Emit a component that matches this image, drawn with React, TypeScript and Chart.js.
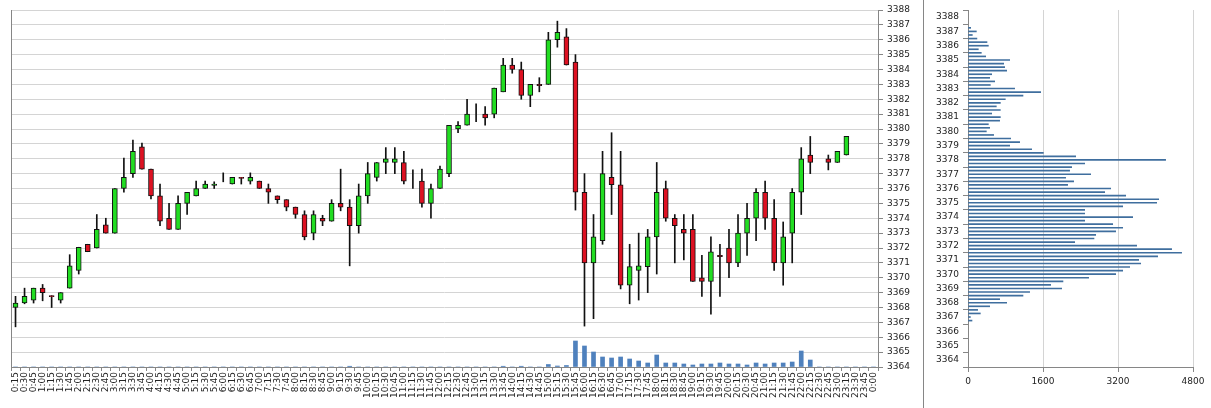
import React, { useEffect, useRef } from "react";
import { Chart, registerables } from "chart.js";

Chart.register(...registerables);

const timeLabels = [
  "0:15","0:30","0:45","1:00","1:15","1:30","1:45","2:00","2:15","2:30","2:45","3:00",
  "3:15","3:30","3:45","4:00","4:15","4:30","4:45","5:00","5:15","5:30","5:45","6:00",
  "6:15","6:30","6:45","7:00","7:15","7:30","7:45","8:00","8:15","8:30","8:45","9:00",
  "9:15","9:30","9:45","10:00","10:15","10:30","10:45","11:00","11:15","11:30","11:45","12:00",
  "12:15","12:30","12:45","13:00","13:15","13:30","13:45","14:00","14:15","14:30","14:45","15:00",
  "15:15","15:30","15:45","16:00","16:15","16:30","16:45","17:00","17:15","17:30","17:45","18:00",
  "18:15","18:30","18:45","19:00","19:15","19:30","19:45","20:00","20:15","20:30","20:45","21:00",
  "21:15","21:30","21:45","22:00","22:15","22:30","22:45","23:00","23:15","23:30","23:45","0:00",
];

const opens: (number | null)[] = [
  3368.0, 3368.3, 3368.5, 3369.3, 3368.8, 3368.5, 3369.3, 3370.5, 3372.25, 3372.0, 3373.55, 3373.0,
  3376.0, 3377.0, 3378.8, 3377.3, 3375.5, 3374.0, 3373.25, 3375.0, 3375.5, 3376.0, 3376.2, 3376.75,
  3376.3, 3376.75, 3376.5, 3376.5, 3376.0, 3375.5, 3375.25, 3374.75, 3374.25, 3373.0, 3374.0, 3373.8,
  3375.0, 3374.75, 3373.5, 3375.5, 3376.75, 3377.75, 3377.75, 3377.75, 3376.7, 3376.5, 3375.0, 3376.0,
  3377.0, 3380.0, 3380.25, 3381.0, 3381.0, 3381.0, 3382.5, 3384.3, 3384.0, 3382.25, 3383.0, 3383.0,
  3386.0, 3386.2, 3384.5, 3375.75, 3371.0, 3372.5, 3376.75, 3376.25, 3369.5, 3370.5, 3370.75, 3372.75,
  3376.0, 3374.0, 3373.25, 3373.25, 3370.0, 3369.75, 3371.5, 3372.0, 3371.0, 3373.0, 3374.0, 3375.75,
  3374.0, 3371.0, 3373.0, 3375.75, 3378.25, null, 3378.0, 3377.75, 3378.25, null, null, null,
];
const highs: (number | null)[] = [
  3368.75, 3369.3, 3369.3, 3369.55, 3368.8, 3369.0, 3371.55, 3372.05, 3372.25, 3374.25, 3374.0, 3376.0,
  3378.05, 3379.25, 3379.05, 3377.3, 3376.3, 3375.0, 3375.5, 3375.75, 3376.5, 3376.5, 3376.45, 3377.05,
  3376.75, 3376.75, 3377.05, 3376.5, 3376.3, 3375.5, 3375.25, 3374.75, 3374.5, 3374.5, 3374.2, 3375.25,
  3377.3, 3375.25, 3376.3, 3377.75, 3377.75, 3378.75, 3378.75, 3378.5, 3377.25, 3377.3, 3376.3, 3377.5,
  3380.25, 3380.5, 3382.0, 3381.7, 3381.5, 3382.75, 3384.75, 3384.75, 3384.5, 3383.0, 3383.45, 3386.5,
  3387.25, 3386.75, 3385.0, 3377.0, 3374.25, 3378.5, 3379.75, 3378.5, 3372.25, 3373.0, 3373.25, 3377.75,
  3376.5, 3374.25, 3374.25, 3374.25, 3371.5, 3372.75, 3372.25, 3373.25, 3374.25, 3375.0, 3376.0, 3376.5,
  3375.25, 3373.75, 3376.0, 3378.75, 3379.5, null, 3378.25, 3378.5, 3379.5, null, null, null,
];
const lows: (number | null)[] = [
  3366.7, 3368.25, 3368.3, 3368.45, 3368.0, 3368.3, 3369.3, 3370.25, 3371.75, 3372.0, 3373.0, 3373.0,
  3375.75, 3376.75, 3377.3, 3375.3, 3373.5, 3373.25, 3373.25, 3374.25, 3375.5, 3376.0, 3376.0, 3376.45,
  3376.3, 3376.3, 3376.3, 3376.0, 3375.0, 3375.0, 3374.5, 3374.0, 3372.55, 3372.55, 3373.5, 3373.8,
  3374.5, 3370.8, 3373.0, 3375.0, 3376.5, 3377.0, 3377.0, 3376.3, 3376.0, 3374.75, 3374.0, 3376.0,
  3376.8, 3379.75, 3380.25, 3380.5, 3380.25, 3380.75, 3382.5, 3383.75, 3382.0, 3381.5, 3382.5, 3383.0,
  3385.5, 3384.3, 3374.55, 3366.75, 3367.25, 3372.25, 3374.25, 3369.25, 3368.25, 3368.5, 3369.0, 3370.25,
  3373.8, 3371.0, 3371.2, 3369.75, 3368.75, 3367.55, 3368.75, 3370.0, 3370.75, 3371.5, 3372.5, 3373.25,
  3370.5, 3369.5, 3371.0, 3374.25, 3377.0, null, 3377.25, 3377.75, 3378.25, null, null, null,
];
const closes: (number | null)[] = [
  3368.3, 3368.75, 3369.3, 3369.0, 3368.72, 3369.0, 3370.8, 3372.05, 3371.75, 3373.25, 3373.0, 3376.0,
  3376.75, 3378.5, 3377.3, 3375.5, 3373.8, 3373.25, 3375.0, 3375.75, 3376.0, 3376.3, 3376.3, 3376.75,
  3376.75, 3376.67, 3376.75, 3376.0, 3375.75, 3375.25, 3374.75, 3374.25, 3372.75, 3374.25, 3373.8, 3375.0,
  3374.75, 3373.5, 3375.5, 3377.0, 3377.75, 3378.0, 3378.0, 3376.5, 3376.7, 3375.0, 3376.0, 3377.3,
  3380.25, 3380.25, 3381.0, 3381.0, 3380.75, 3382.75, 3384.3, 3384.0, 3382.25, 3383.0, 3382.92, 3386.0,
  3386.5, 3384.3, 3375.75, 3371.0, 3372.75, 3377.0, 3376.25, 3369.5, 3370.75, 3370.8, 3372.75, 3375.75,
  3374.0, 3373.5, 3373.0, 3369.75, 3369.75, 3371.75, 3371.42, 3371.0, 3373.0, 3374.0, 3375.75, 3374.0,
  3371.0, 3372.75, 3375.75, 3378.0, 3377.75, null, 3377.75, 3378.5, 3379.5, null, null, null,
];
const volumes: number[] = [
  0, 0, 0, 0, 0, 0, 0, 0, 0, 0, 0, 0,
  0, 0, 0, 0, 0, 0, 0, 0, 0, 0, 0, 0,
  0, 0, 0, 0, 0, 0, 0, 0, 0, 0, 0, 0,
  0, 150, 0, 0, 0, 0, 0, 0, 0, 0, 0, 0,
  0, 0, 0, 0, 0, 0, 150, 0, 150, 0, 0, 500,
  200, 300, 5200, 4200, 3000, 2000, 1800, 2000, 1600, 1200, 800, 2400,
  800, 800, 600, 400, 600, 600, 800, 600, 600, 400, 800, 600,
  800, 800, 1000, 3200, 1400, 0, 0, 0, 0, 0, 0, 0,
];

const profilePrices = [
  3387.25, 3387.0, 3386.75, 3386.5, 3386.25, 3386.0, 3385.75, 3385.5, 3385.25, 3385.0,
  3384.75, 3384.5, 3384.25, 3384.0, 3383.75, 3383.5, 3383.25, 3383.0, 3382.75, 3382.5,
  3382.25, 3382.0, 3381.75, 3381.5, 3381.25, 3381.0, 3380.75, 3380.5, 3380.25, 3380.0,
  3379.75, 3379.5, 3379.25, 3379.0, 3378.75, 3378.5, 3378.25, 3378.0, 3377.75, 3377.5,
  3377.25, 3377.0, 3376.75, 3376.5, 3376.25, 3376.0, 3375.75, 3375.5, 3375.25, 3375.0,
  3374.75, 3374.5, 3374.25, 3374.0, 3373.75, 3373.5, 3373.25, 3373.0, 3372.75, 3372.5,
  3372.25, 3372.0, 3371.75, 3371.5, 3371.25, 3371.0, 3370.75, 3370.5, 3370.25, 3370.0,
  3369.75, 3369.5, 3369.25, 3369.0, 3368.75, 3368.5, 3368.25, 3368.0, 3367.75, 3367.5,
  3367.25, 3367.0, 3366.75,
];
const profileVolumes = [
  57, 178, 92, 190, 405, 434, 220, 284, 377, 889,
  761, 782, 825, 505, 462, 569, 476, 995, 1550, 1173,
  796, 690, 604, 690, 505, 690, 675, 434, 462, 391,
  547, 910, 1102, 889, 1358, 1607, 2297, 4216, 2489, 2211,
  2168, 2617, 2083, 2254, 2126, 3044, 2916, 3364, 4068, 4025,
  3300, 2489, 2489, 3513, 2489, 3087, 3300, 3150, 2724, 2688,
  2276, 3598, 4344, 4557, 4046, 3641, 3684, 3449, 3300, 3150,
  2574, 2026, 1763, 1998, 1315, 1173, 675, 825, 462, 206,
  263, 50, 85,
];

const GREEN = "#22dd22";
const RED = "#dd1122";
const AXIS = "#868686";
const GRID = "#d4d4d4";
const FONT = { family: "'DejaVu Sans', sans-serif", size: 9 };
const TEXT = "#222";
const plain = (v: any) => String(v);

function CandleChart() {
  const ref = useRef<HTMLCanvasElement>(null);
  useEffect(() => {
    const bodies = timeLabels.map((_, i) =>
      opens[i] == null ? null : [opens[i] as number, closes[i] as number]
    );
    const wicks = timeLabels.map((_, i) =>
      highs[i] == null ? null : [lows[i] as number, highs[i] as number]
    );
    const colors = timeLabels.map((_, i) =>
      (closes[i] ?? 0) >= (opens[i] ?? 0) ? GREEN : RED
    );
    const chart = new Chart(ref.current!, {
      type: "bar",
      data: {
        labels: timeLabels,
        datasets: [
          {
            data: bodies as any,
            backgroundColor: colors,
            borderColor: "#111",
            borderWidth: 1,
            borderSkipped: false,
            barThickness: 5,
            grouped: false,
            yAxisID: "y",
          } as any,
          {
            data: wicks as any,
            backgroundColor: "#111",
            borderWidth: 0,
            barThickness: 1,
            grouped: false,
            yAxisID: "y",
          } as any,
          {
            data: volumes,
            backgroundColor: "#4f81bd",
            borderWidth: 0,
            barThickness: 4,
            grouped: false,
            yAxisID: "yVol",
          } as any,
        ],
      },
      options: {
        animation: false,
        responsive: false,
        devicePixelRatio: 1,
        layout: { padding: { top: 10, left: 0, right: 0, bottom: 0 } },
        plugins: { legend: { display: false }, tooltip: { enabled: false } },
        scales: {
          x: {
            type: "category",
            offset: true,
            grid: {
              display: true,
              drawOnChartArea: false,
              drawTicks: true,
              tickLength: 4,
              color: AXIS,
              offset: true,
            },
            border: { color: AXIS },
            ticks: {
              autoSkip: false,
              maxRotation: 90,
              minRotation: 90,
              font: FONT,
              color: TEXT,
              padding: 1,
            },
            afterFit: (s: any) => {
              s.height = 41;
            },
          },
          y: {
            type: "linear",
            position: "right",
            min: 3364,
            max: 3388,
            ticks: { stepSize: 1, font: FONT, color: TEXT, padding: 4, callback: plain },
            grid: { color: GRID, tickColor: AXIS, tickLength: 5 },
            border: { color: AXIS },
            afterFit: (s: any) => {
              s.width = 44;
            },
          },
          yVol: {
            type: "linear",
            position: "left",
            min: 0,
            max: 71400,
            ticks: { display: false },
            grid: { drawOnChartArea: false, drawTicks: false },
            border: { color: AXIS },
            afterFit: (s: any) => {
              s.width = 11;
            },
          },
        },
      } as any,
    });
    return () => chart.destroy();
  }, []);
  return <canvas ref={ref} width={922} height={408} />;
}

function ProfileChart() {
  const ref = useRef<HTMLCanvasElement>(null);
  useEffect(() => {
    const points = profilePrices.map((p, i) => ({ x: profileVolumes[i], y: p }));
    const chart = new Chart(ref.current!, {
      type: "bar",
      data: {
        datasets: [
          {
            data: points as any,
            backgroundColor: "#3f6e9e",
            borderWidth: 0,
            barThickness: 1,
          } as any,
        ],
      },
      options: {
        animation: false,
        responsive: false,
        devicePixelRatio: 1,
        indexAxis: "y",
        layout: { padding: { top: 10, left: 0, right: 18, bottom: 0 } },
        plugins: { legend: { display: false }, tooltip: { enabled: false } },
        scales: {
          y: {
            type: "linear",
            position: "left",
            min: 3364,
            max: 3388,
            ticks: { stepSize: 1, font: FONT, color: TEXT, padding: 4, callback: plain },
            grid: { drawOnChartArea: false, tickColor: AXIS, tickLength: 5 },
            border: { color: AXIS },
            afterFit: (s: any) => {
              s.width = 44;
            },
          },
          x: {
            type: "linear",
            min: 0,
            max: 4800,
            ticks: { stepSize: 1600, font: FONT, color: TEXT, padding: 4, callback: plain },
            grid: { color: GRID, tickColor: AXIS, tickLength: 5 },
            border: { color: AXIS },
            afterFit: (s: any) => {
              s.height = 41;
            },
          },
        },
      } as any,
    });
    return () => chart.destroy();
  }, []);
  return <canvas ref={ref} width={287} height={408} />;
}

export default function App() {
  return (
    <div
      style={{
        position: "absolute",
        left: 0,
        top: 0,
        width: 1211,
        height: 408,
        background: "#fff",
        overflow: "hidden",
      }}
    >
      <div style={{ position: "absolute", left: 0, top: 0, width: 922, height: 408 }}>
        <CandleChart />
      </div>
      <div
        style={{ position: "absolute", left: 923, top: 0, width: 1, height: 408, background: AXIS }}
      />
      <div style={{ position: "absolute", left: 924, top: 0, width: 287, height: 408 }}>
        <ProfileChart />
      </div>
    </div>
  );
}
